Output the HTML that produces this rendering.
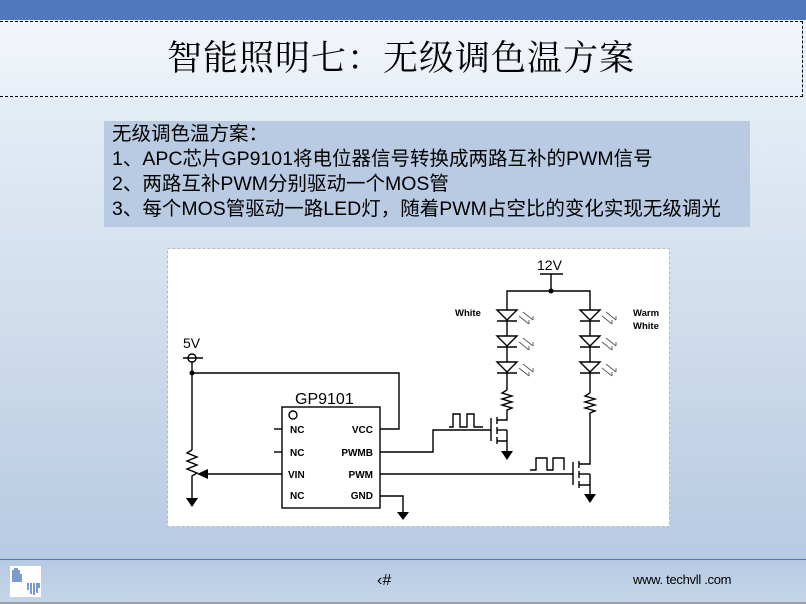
<!DOCTYPE html>
<html><head><meta charset="utf-8"><style>
html,body{margin:0;padding:0}
body{width:806px;height:604px;position:relative;overflow:hidden;font-family:"Liberation Sans","Noto Sans CJK SC",sans-serif;background:linear-gradient(to bottom,#eef3f9 0px,#e3ebf5 120px,#cfdcec 330px,#b6cae2 560px,#c4d5e8 600px)}
.top{position:absolute;left:0;top:0;width:806px;height:20px;background:#4f78bd}
.title{position:absolute;left:0;top:21px;width:802px;height:74px;border:1px dashed #000;border-left:none;background:linear-gradient(#f3f6fb,#e9eff7);text-align:center;font-size:35px;line-height:74px;color:#000;font-family:"Liberation Serif","Noto Serif CJK SC",serif;letter-spacing:1px}
.txt{position:absolute;left:104px;top:121px;width:646px;height:106px;background:#b9cbe2;font-size:19.5px;line-height:25px;color:#000;padding:1px 0 0 8px;box-sizing:border-box;white-space:nowrap}
.dia{position:absolute;left:0;top:0}
.fl{position:absolute;left:0;top:559px;width:806px;height:1px;background:#4f78bd}
.bl{position:absolute;left:0;top:602px;width:806px;height:2px;background:#a0a0a0}
.pg{position:absolute;left:377px;top:572px;font-size:16px}
.url{position:absolute;left:633px;top:572px;font-size:13px;letter-spacing:-0.3px}
</style></head><body>
<div class="top"></div>
<div class="title">智能照明七：无级调色温方案</div>
<div class="txt">无级调色温方案：<br>1、APC芯片GP9101将电位器信号转换成两路互补的PWM信号<br>2、两路互补PWM分别驱动一个MOS管<br>3、每个MOS管驱动一路LED灯，随着PWM占空比的变化实现无级调光</div>
<svg class="dia" width="806" height="604" viewBox="0 0 806 604">
<rect x="167.5" y="248.5" width="502" height="278" fill="#fff" stroke="#b8b8b8" stroke-dasharray="3,2"/>
<g stroke="#000" stroke-width="1.4" fill="none">
<line x1="183" y1="358" x2="203" y2="358"/><circle cx="192" cy="358" r="4"/>
<polyline points="192,362 192,450"/>
<polyline points="192,450 187,453 197,457 187,461 197,465 187,469 197,473 192,476 192,498"/>
<polyline points="192,373 399,373 399,429 380,429"/>
<rect x="282" y="407" width="98" height="101"/>
<circle cx="293" cy="415" r="4"/>
<line x1="274" y1="429" x2="282" y2="429"/><line x1="274" y1="452" x2="282" y2="452"/>
<line x1="207" y1="474" x2="282" y2="474"/>
<polyline points="380,496 403,496 403,512"/>
<polyline points="380,452 433,452 433,430 491,430"/>
<line x1="380" y1="474" x2="573" y2="474"/>
<line x1="540" y1="274" x2="563" y2="274"/><line x1="551" y1="274" x2="551" y2="291"/>
<polyline points="507,304 507,291 590,291 590,304"/>
<line x1="507" y1="304" x2="507" y2="390"/><line x1="590" y1="304" x2="590" y2="393"/>
<polyline points="507,390 502,393 512,396 502,399 512,402 502,405 512,408 507,410 507,418"/>
<polyline points="590,393 585,396 595,399 585,402 595,405 585,408 595,411 590,413 590,462"/>
<line x1="491" y1="418" x2="491" y2="441"/>
<line x1="497" y1="417" x2="497" y2="424"/><line x1="497" y1="427" x2="497" y2="434"/><line x1="497" y1="437" x2="497" y2="444"/>
<polyline points="497,420 507,420 507,418"/><polyline points="497,441 507,441 507,452"/><line x1="497" y1="430" x2="507" y2="430"/><line x1="507" y1="430" x2="507" y2="441"/>
<polyline points="449,427 453,427 453,414 460,414 460,427 467,427 467,414 474,414 474,427 483,427"/>
<line x1="573" y1="462" x2="573" y2="485"/>
<line x1="579" y1="461" x2="579" y2="468"/><line x1="579" y1="471" x2="579" y2="478"/><line x1="579" y1="481" x2="579" y2="488"/>
<polyline points="579,464 590,464 590,462"/><polyline points="579,485 590,485 590,494"/><line x1="579" y1="474" x2="590" y2="474"/><line x1="590" y1="474" x2="590" y2="485"/>
<polyline points="530,470 536,470 536,458 547,458 547,470 553,470 553,458 564,458 564,470"/>
</g>
<g fill="#000">
<circle cx="192" cy="373" r="2.5"/><circle cx="551" cy="291" r="2.5"/>
<polygon points="186,498 198,498 192,507"/>
<polygon points="397,512 409,512 403,520"/>
<polygon points="501,451 513,451 507,460"/>
<polygon points="584,494 596,494 590,503"/>
<polygon points="197,474 208,469 208,479"/>
</g>
<g stroke="#000" stroke-width="1.4" fill="#fff">
<polygon points="497,310 517,310 507,320"/><line x1="497" y1="321" x2="517" y2="321"/>
<polygon points="497,336 517,336 507,346"/><line x1="497" y1="347" x2="517" y2="347"/>
<polygon points="497,362 517,362 507,372"/><line x1="497" y1="373" x2="517" y2="373"/>
<polygon points="580,310 600,310 590,320"/><line x1="580" y1="321" x2="600" y2="321"/>
<polygon points="580,336 600,336 590,346"/><line x1="580" y1="347" x2="600" y2="347"/>
<polygon points="580,362 600,362 590,372"/><line x1="580" y1="373" x2="600" y2="373"/>
</g>
<g stroke="#555" stroke-width="0.9" fill="none">
<path d="M519,316 l10,8 M523,312 l10,8 M529,324 l0,-4 M533,320 l0,-4"/>
<path d="M519,342 l10,8 M523,338 l10,8 M529,350 l0,-4 M533,346 l0,-4"/>
<path d="M519,368 l10,8 M523,364 l10,8 M529,376 l0,-4 M533,372 l0,-4"/>
<path d="M602,316 l10,8 M606,312 l10,8 M612,324 l0,-4 M616,320 l0,-4"/>
<path d="M602,342 l10,8 M606,338 l10,8 M612,350 l0,-4 M616,346 l0,-4"/>
<path d="M602,368 l10,8 M606,364 l10,8 M612,376 l0,-4 M616,372 l0,-4"/>
</g>
<g font-family="Liberation Sans, sans-serif" fill="#000">
<text x="183" y="348" font-size="14">5V</text>
<text x="537" y="270" font-size="14">12V</text>
<text x="295" y="404" font-size="16">GP9101</text>
<g font-size="10" font-weight="bold">
<text x="290" y="433">NC</text><text x="290" y="456">NC</text><text x="288" y="478">VIN</text><text x="290" y="499">NC</text>
<text x="373" y="433" text-anchor="end">VCC</text><text x="373" y="456" text-anchor="end">PWMB</text><text x="373" y="478" text-anchor="end">PWM</text><text x="373" y="499" text-anchor="end">GND</text>
<text x="455" y="316" font-size="9.5">White</text>
<text x="633" y="316" font-size="9.5">Warm</text><text x="633" y="329" font-size="9.5">White</text>
</g>
</g>
<rect x="10" y="566" width="31" height="31" fill="#fff"/>
<g stroke="#4f78bd" stroke-width="1.5">
<line x1="13" y1="570" x2="13" y2="582"/><line x1="15" y1="568" x2="15" y2="582"/><line x1="17" y1="568" x2="17" y2="582"/><line x1="19" y1="570" x2="19" y2="582"/><line x1="21" y1="574" x2="21" y2="582"/>
<line x1="28" y1="583" x2="28" y2="590"/><line x1="31" y1="583" x2="31" y2="594"/><line x1="34" y1="583" x2="34" y2="595"/><line x1="37" y1="583" x2="37" y2="593"/><line x1="39" y1="583" x2="39" y2="588"/>
</g>
</svg>
<div class="fl"></div>
<div class="pg">‹#</div>
<div class="url">www. techvll .com</div>
<div class="bl"></div>
</body></html>
